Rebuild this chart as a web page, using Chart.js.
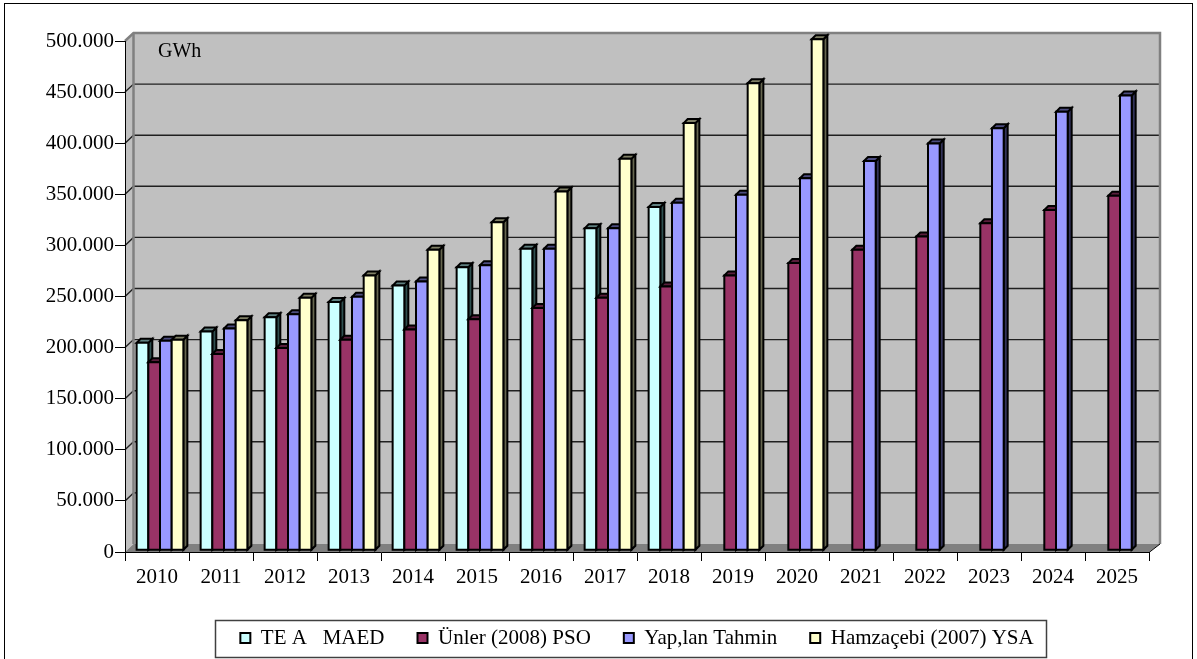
<!DOCTYPE html>
<html>
<head>
<meta charset="utf-8">
<script src="https://cdn.jsdelivr.net/npm/chart.js@4.4.1/dist/chart.umd.min.js"></script>
<style>
  html, body { margin: 0; padding: 0; background: #fff; }
  canvas { display: block; }
</style>
</head>
<body>
<canvas id="c" width="1197" height="659"></canvas>
<script>
// Yearly electricity demand forecasts (GWh)
const years = ['2010', '2011', '2012', '2013', '2014', '2015', '2016', '2017',
               '2018', '2019', '2020', '2021', '2022', '2023', '2024', '2025'];

const teiasMaed     = [203000, 214000, 228000, 243000, 259000, 277000, 295000, 315000, 336000,
                       null, null, null, null, null, null, null];
const unlerPso      = [184000, 192000, 198000, 206000, 216000, 226000, 237000, 247000, 258000,
                       269000, 281000, 294000, 307000, 320000, 333000, 347000];
const yapilanTahmin = [205000, 217000, 231000, 248000, 263000, 279000, 295000, 315000, 340000,
                       348000, 364000, 381000, 398000, 413000, 429000, 445000];
const hamzacebiYsa  = [206000, 225000, 247000, 269000, 294000, 321000, 351000, 383000, 418000,
                       457000, 500000, null, null, null, null, null];

const seriesNames = ['TE A   MAED', 'Ünler (2008) PSO', 'Yap,lan Tahmin', 'Hamzaçebi (2007) YSA'];
const yTickLabels = ['0', '50.000', '100.000', '150.000', '200.000', '250.000',
                     '300.000', '350.000', '400.000', '450.000', '500.000'];
const unitLabel = 'GWh';

// face colours: front, top cap, right side
const palette = [
  { front: '#CCFFFF', top: '#5F8080', side: '#2F4F4F' },
  { front: '#993366', top: '#5A1E3C', side: '#4A1830' },
  { front: '#9999FF', top: '#4D4D80', side: '#33335A' },
  { front: '#FFFFCC', top: '#808066', side: '#66664F' }
];

const SERIF = "'Liberation Serif', 'Times New Roman', serif";
const WALL_DX = 9, WALL_DY = 8;      // depth of the back wall
const BAR_DX = 4, BAR_DY = 4;        // depth of each column
const BAR_SHIFT_X = 3, BAR_SHIFT_Y = -1.7;

// back wall, side wall, floor and gridlines
const frame3d = {
  id: 'frame3d',
  beforeDraw(chart) {
    const { ctx, chartArea: a, scales: { y } } = chart;
    const bx = a.left + WALL_DX - 0.5, bTop = a.top - WALL_DY, bBot = a.bottom - WALL_DY, bR = a.right + 11;
    ctx.save();
    ctx.fillStyle = '#fff';
    ctx.fillRect(0, 0, chart.width, chart.height);

    ctx.fillStyle = '#C0C0C0';
    ctx.fillRect(bx, bTop, bR - bx, bBot - bTop);
    ctx.beginPath();
    ctx.moveTo(a.left, a.bottom); ctx.lineTo(a.left, a.top);
    ctx.lineTo(bx, bTop); ctx.lineTo(bx, bBot); ctx.closePath();
    ctx.fill();

    ctx.fillStyle = '#808080';
    ctx.beginPath();
    ctx.moveTo(a.left, a.bottom); ctx.lineTo(a.right, a.bottom);
    ctx.lineTo(bR, bBot); ctx.lineTo(bx, bBot); ctx.closePath();
    ctx.fill();

    // gridlines on the side wall and back wall
    ctx.strokeStyle = '#202020';
    ctx.lineWidth = 1.4;
    y.ticks.forEach(t => {
      if (t.value <= 0 || t.value >= y.max) return;
      const py = y.getPixelForValue(t.value);
      ctx.beginPath();
      ctx.moveTo(a.left, py);
      ctx.lineTo(bx, py - WALL_DY);
      ctx.lineTo(bR, py - WALL_DY);
      ctx.stroke();
    });

    // wall edges
    ctx.strokeStyle = '#808080';
    ctx.lineWidth = 2.5;
    ctx.beginPath();
    ctx.moveTo(a.left, a.top); ctx.lineTo(bx, bTop); ctx.lineTo(bR, bTop); ctx.lineTo(bR, bBot);
    ctx.stroke();
    ctx.beginPath();
    ctx.moveTo(bx, bTop); ctx.lineTo(bx, bBot);
    ctx.stroke();
    ctx.strokeStyle = '#000';
    ctx.lineWidth = 1;
    ctx.beginPath();
    ctx.moveTo(a.right, a.bottom + 0.5); ctx.lineTo(bR, bBot);
    ctx.stroke();

    // unit caption
    ctx.fillStyle = '#000';
    ctx.font = '20px ' + SERIF;
    ctx.textAlign = 'left';
    ctx.textBaseline = 'middle';
    ctx.fillText(unitLabel, a.left + 33, a.top + 11);
    ctx.restore();
  },
  afterDraw(chart) {
    const { ctx } = chart;
    ctx.save();
    ctx.strokeStyle = '#000';
    ctx.lineWidth = 1;
    ctx.strokeRect(4.5, 3.5, chart.width - 9, chart.height - 2);
    const boxes = chart.legend.legendHitBoxes;
    if (boxes && boxes.length) {
      const f = boxes[0], l = boxes[boxes.length - 1];
      const left = Math.round(f.left - 25) + 0.5;
      const right = Math.round(l.left + l.width + 12) + 0.5;
      const top = Math.round(f.top - 8) + 0.5;
      const bottom = Math.round(f.top + f.height + 8) + 0.5;
      ctx.strokeStyle = '#404040';
      ctx.lineWidth = 1.5;
      ctx.strokeRect(left, top, right - left, bottom - top);
    }
    ctx.restore();
  }
};

// columns with a top cap and a right side face, drawn category by category
const columns3d = {
  id: 'columns3d',
  beforeDatasetsDraw(chart) {
    const { ctx } = chart;
    const metas = chart.data.datasets.map((d, i) => chart.getDatasetMeta(i));
    ctx.save();
    ctx.translate(BAR_SHIFT_X, BAR_SHIFT_Y);
    ctx.lineWidth = 2;
    ctx.lineJoin = 'miter';
    ctx.strokeStyle = '#000';
    for (let c = 0; c < chart.data.labels.length; c++) {
      metas.forEach((meta, di) => {
        const v = chart.data.datasets[di].data[c];
        if (v === null || v === undefined) return;
        const el = meta.data[c];
        const { x, y, base, width } = el.getProps(['x', 'y', 'base', 'width'], true);
        const l = x - width / 2, r = x + width / 2;
        const col = palette[di];

        ctx.beginPath();
        ctx.moveTo(r, y); ctx.lineTo(r + BAR_DX, y - BAR_DY);
        ctx.lineTo(r + BAR_DX, base - BAR_DY); ctx.lineTo(r, base); ctx.closePath();
        ctx.fillStyle = col.side; ctx.fill(); ctx.stroke();

        ctx.beginPath();
        ctx.moveTo(l, y); ctx.lineTo(l + BAR_DX, y - BAR_DY);
        ctx.lineTo(r + BAR_DX, y - BAR_DY); ctx.lineTo(r, y); ctx.closePath();
        ctx.fillStyle = col.top; ctx.fill(); ctx.stroke();

        ctx.beginPath();
        ctx.rect(l, y, width, base - y);
        ctx.fillStyle = col.front; ctx.fill(); ctx.stroke();
      });
    }
    ctx.restore();
    return false;
  }
};

Chart.defaults.color = '#000';
Chart.defaults.font.family = SERIF;

const seriesData = [teiasMaed, unlerPso, yapilanTahmin, hamzacebiYsa];

new Chart(document.getElementById('c'), {
  type: 'bar',
  data: {
    labels: years,
    datasets: seriesData.map((d, i) => ({
      label: seriesNames[i],
      data: d,
      backgroundColor: palette[i].front,
      borderColor: '#000',
      borderWidth: 2
    }))
  },
  options: {
    responsive: false,
    animation: false,
    devicePixelRatio: 1,
    categoryPercentage: 0.73,
    barPercentage: 1.0,
    layout: { padding: { top: 41, right: 48, bottom: 0.5, left: 0 } },
    plugins: {
      tooltip: { enabled: false },
      legend: {
        position: 'bottom',
        fullSize: false,
        labels: {
          font: { size: 21, family: SERIF },
          color: '#000',
          boxWidth: 10,
          boxHeight: 10,
          padding: 33
        }
      }
    },
    scales: {
      x: {
        afterFit(scale) { scale.height = 42.5; },
        grid: { drawOnChartArea: false, drawTicks: true, tickLength: 9, color: '#000', lineWidth: 1 },
        border: { display: true, color: '#000', width: 1 },
        ticks: { font: { size: 21, family: SERIF }, color: '#000', padding: 4, maxRotation: 0, autoSkip: false }
      },
      y: {
        min: 0,
        max: 500000,
        afterFit(scale) { scale.width = 125; },
        grid: { drawOnChartArea: false, drawTicks: true, tickLength: 10, color: '#000', lineWidth: 1 },
        border: { display: true, color: '#000', width: 1 },
        ticks: {
          stepSize: 50000,
          font: { size: 21, family: SERIF },
          color: '#000',
          padding: 1,
          callback: (value) => yTickLabels[Math.round(value / 50000)]
        }
      }
    }
  },
  plugins: [frame3d, columns3d]
});
</script>
</body>
</html>
